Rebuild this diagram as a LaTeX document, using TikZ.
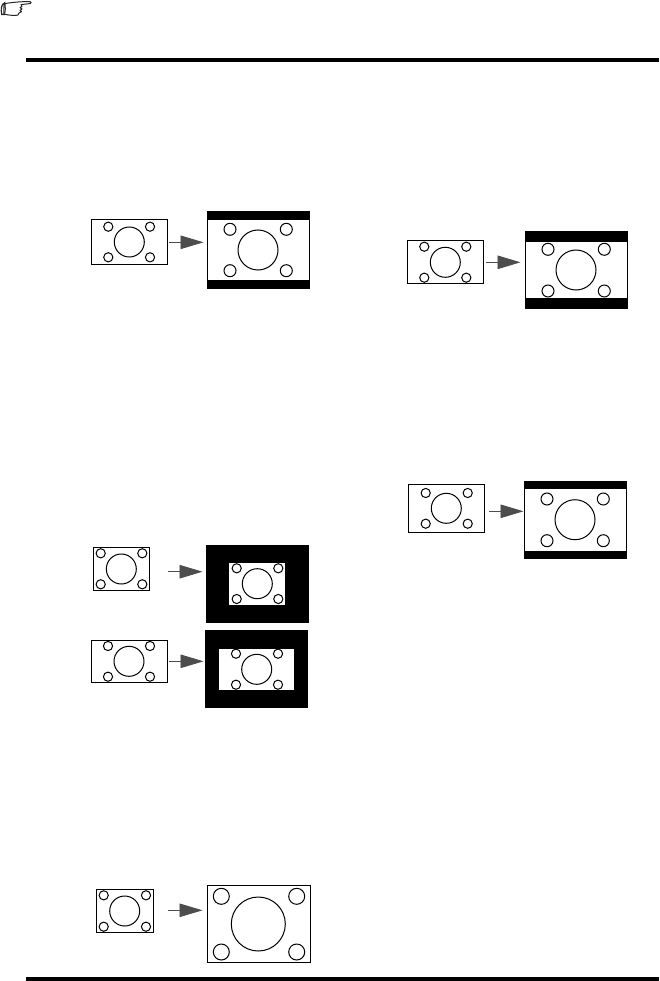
\documentclass[tikz,border=0pt]{standalone}
\usetikzlibrary{arrows.meta}
\definecolor{arrowgray}{HTML}{4D4D4D}
\tikzset{
  screenline/.style={draw=black,line width=1pt},
  dotline/.style={draw=black,line width=1pt,fill=white},
  bar/.style={fill=black,draw=none},
  hole/.style={fill=white,draw=none},
  flow/.style={draw=arrowgray,line width=0.9pt,-{Triangle[length=23pt,width=13.5pt,fill=arrowgray]}},
  rulebar/.style={fill=black,draw=none},
}
\newcommand{\plainscr}[4]{\path[screenline,fill=white] (#1,#2) rectangle (#3,#4);}
\newcommand{\scrdots}[8]{%
  \path[dotline] (#1,#2) circle[radius=#3];
  \path[dotline] (#4,#6) circle[radius=#8];
  \path[dotline] (#5,#6) circle[radius=#8];
  \path[dotline] (#4,#7) circle[radius=#8];
  \path[dotline] (#5,#7) circle[radius=#8];}
\begin{document}
\begin{tikzpicture}[x=1pt,y=-1pt]
\useasboundingbox (0,0) rectangle (659,981);
\path[fill=white] (0,0) rectangle (659,981);
% rules
\path[rulebar] (26,58) rectangle (659,62);
\path[rulebar] (26,977) rectangle (659,981);
% hand icon
\draw[black!85,line width=1pt,line join=round,fill=white]
  (5,3.5) .. controls (12,2.5) and (20,1.5) .. (30,1.6)
  .. controls (31.5,2) and (31.5,3.4) .. (30,3.6)
  -- (21,4.6) -- (22,6.5) -- (20,7.6) -- (22,9) -- (20,10.4) -- (21.5,11.6) -- (19,13)
  .. controls (19,15) and (17.5,15.4) .. (16,15.4)
  .. controls (12,15.6) and (8,15) .. (4.5,14.2)
  .. controls (5.5,10) and (5.5,7) .. (5,3.5) -- cycle;
\draw[black!85,line width=1.2pt,fill=white] (4.5,3) .. controls (1,4) and (0.8,10) .. (1.8,14.5) -- (4.2,14.5) .. controls (3.6,10) and (3.8,7) .. (4.5,3) -- cycle;

% panel 1
\plainscr{91.3}{219.3}{167.7}{264.3}
\scrdots{129.3}{242}{15}{108.3}{150}{226.7}{257.3}{4.6}
\path[bar] (207,211) rectangle (310,289);
\path[hole] (207.8,220) rectangle (309.2,280);
\scrdots{258}{250}{20}{230}{286.3}{229.3}{270.7}{6}
\coordinate (a1s) at (169,242.3); \coordinate (a1e) at (203.5,242.3);
\draw[flow] (a1s) -- (a1e);

% panel 2
\plainscr{93.3}{547.3}{149.7}{590.3}
\scrdots{121.3}{569}{15}{100.7}{142.3}{553.3}{584.3}{4.6}
\path[bar] (206,545) rectangle (309,623);
\path[hole] (229,563) rectangle (285,604.7);
\scrdots{257.3}{583.7}{15}{236.7}{278.3}{568.3}{599}{4.6}
\coordinate (a2s) at (168,571.7); \coordinate (a2e) at (202.5,571.7);
\draw[flow] (a2s) -- (a2e);

% panel 3
\plainscr{91.3}{640.3}{167.7}{682.3}
\scrdots{129}{661.3}{15}{108}{150}{646}{676.7}{4.6}
\path[bar] (205,630) rectangle (308,708);
\path[hole] (219,649) rectangle (294,690);
\scrdots{256.7}{669.3}{15}{236}{278}{653.7}{684.7}{4.6}
\coordinate (a3s) at (169,661.3); \coordinate (a3e) at (203.5,661.3);
\draw[flow] (a3s) -- (a3e);

% panel 4
\plainscr{96.3}{889.3}{153.3}{932.3}
\scrdots{124.7}{911}{15}{103.7}{146}{895.3}{926.7}{4.6}
\plainscr{207.3}{885.3}{310}{962.3}
\scrdots{258.3}{924}{27}{221.3}{296.7}{896.3}{952}{8}
\coordinate (a4s) at (168,910.3); \coordinate (a4e) at (202.5,910.3);
\draw[flow] (a4s) -- (a4e);

% panel 5
\plainscr{407.3}{240.3}{483.7}{283.3}
\scrdots{445.3}{262.3}{15}{424.3}{466.3}{246.7}{277.7}{4.6}
\path[bar] (525,231) rectangle (628,309);
\path[hole] (525.8,242) rectangle (627.2,298);
\scrdots{576}{270}{20}{548}{604.3}{249.3}{291}{6}
\coordinate (a5s) at (486,262.3); \coordinate (a5e) at (520.5,262.3);
\draw[flow] (a5s) -- (a5e);

% panel 6
\plainscr{408.3}{484.3}{484.7}{532.3}
\scrdots{446.3}{508.3}{15}{425.7}{467.7}{493}{523.7}{4.6}
\path[bar] (524,481) rectangle (627,559);
\path[hole] (524.8,489) rectangle (626.2,551);
\scrdots{575}{519.7}{20}{547}{603.3}{499}{540.7}{6}
\coordinate (a6s) at (489,511.3); \coordinate (a6e) at (523.5,511.3);
\draw[flow] (a6s) -- (a6e);
\end{tikzpicture}
\end{document}
